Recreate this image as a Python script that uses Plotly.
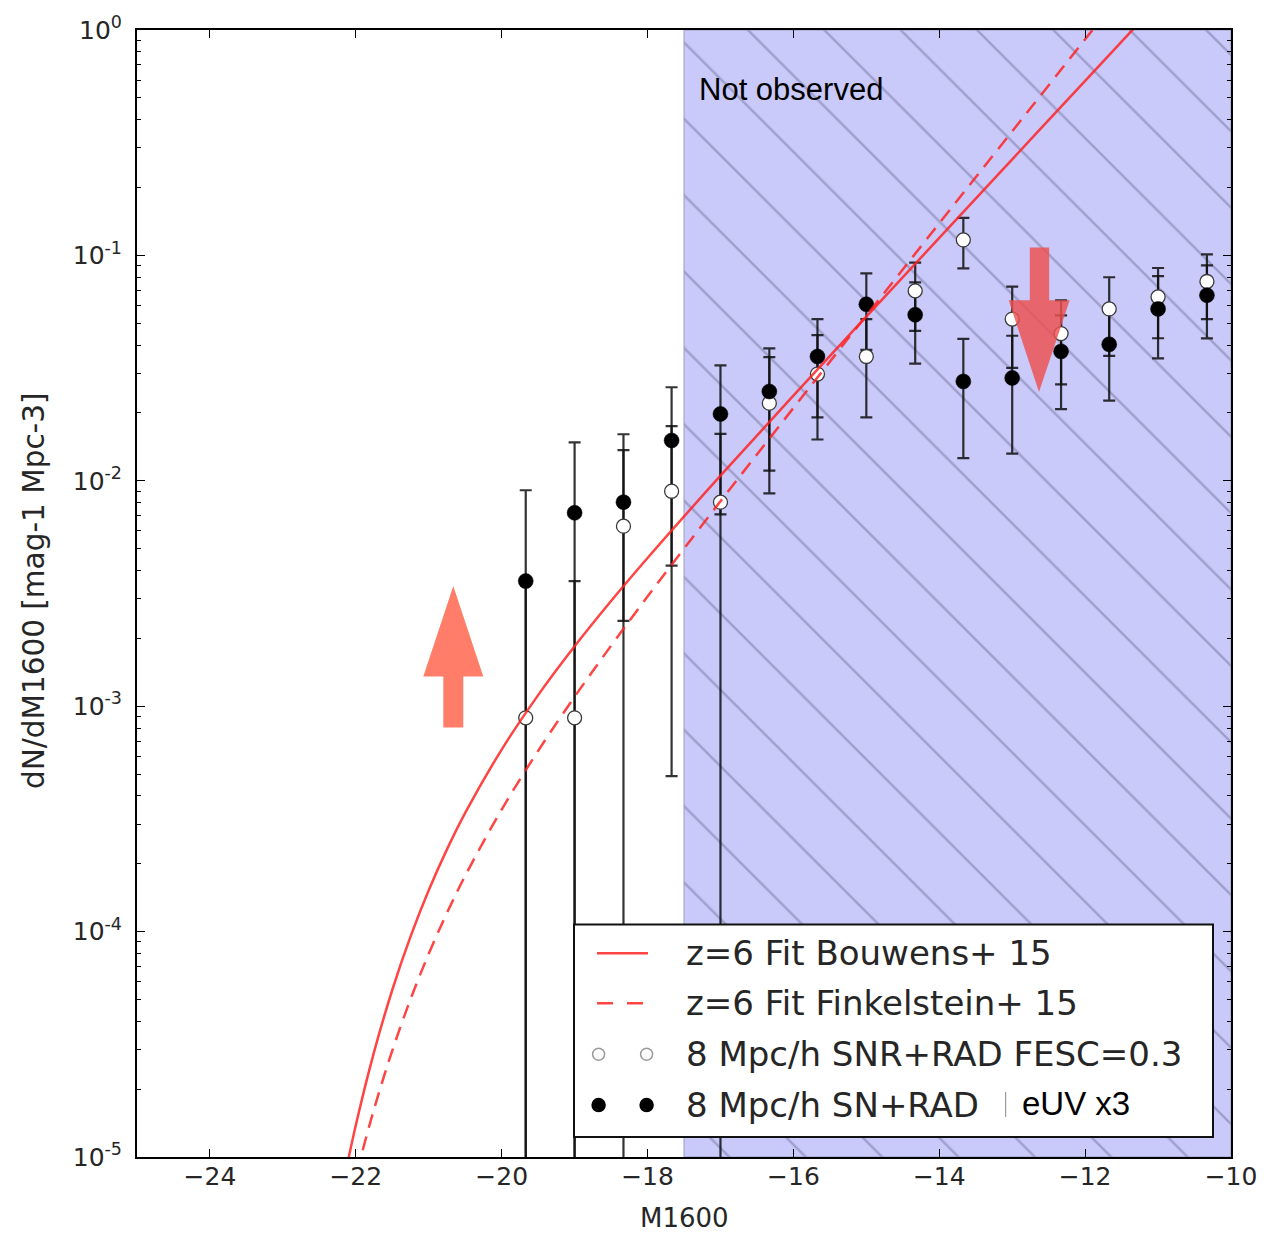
import plotly.graph_objects as go

# ---------------------------------------------------------------------------
# Data
# ---------------------------------------------------------------------------
# Magnitude bins (centres) of the simulated luminosity functions
mag_bins = [-19.67, -19.0, -18.33, -17.67, -17.0, -16.33, -15.67, -15.0,
            -14.33, -13.67, -13.0, -12.33, -11.67, -11.0, -10.33]

# 8 Mpc/h SN+RAD (filled symbols): dN/dM and 1-sigma error
phi_sn_rad = [3.59e-3, 7.21e-3, 8.04e-3, 1.51e-2, 1.98e-2, 2.49e-2, 3.56e-2,
              6.07e-2, 5.45e-2, 2.76e-2, 2.86e-2, 3.75e-2, 4.03e-2, 5.79e-2,
              6.66e-2]
err_sn_rad = [5.49e-3, 7.6e-3, 5.65e-3, 1.09e-2, 1.27e-2, 1.38e-2, 1.65e-2,
              2.26e-2, 2.14e-2, 1.5e-2, 1.54e-2, 1.67e-2, 1.76e-2, 2.3e-2,
              2.38e-2]

# 8 Mpc/h SNR+RAD FESC=0.3 (open symbols)
phi_snr_fesc = [8.88e-4, 8.88e-4, 6.29e-3, 8.99e-3, 8.04e-3, 2.21e-2,
                2.975e-2, 3.56e-2, 6.96e-2, 0.1171, 5.22e-2, 4.50e-2,
                5.79e-2, 6.54e-2, 7.66e-2]
err_snr_fesc = [2.7e-3, 2.7e-3, 9.8e-3, 8.5e-3, 8.1e-3, 1.33e-2, 1.45e-2,
                1.65e-2, 2.33e-2, 2.95e-2, 2.05e-2, 1.82e-2, 2.21e-2,
                2.25e-2, 2.44e-2]

# z=6 observational fits, sampled along M1600
fit_mag = [-22.2, -22.0, -21.75, -21.5, -21.25, -21.0, -20.75, -20.5, -20.0,
           -19.5, -19.0, -18.5, -18.0, -17.0, -16.0, -15.0, -14.0, -13.0,
           -12.0, -11.2]
fit_bouwens = [6.89e-6, 1.384e-5, 2.921e-5, 5.507e-5, 9.495e-5, 1.526e-4,
               2.317e-4, 3.363e-4, 6.421e-4, 1.120e-3, 1.844e-3, 2.928e-3,
               4.544e-3, 1.054e-2, 2.387e-2, 5.353e-2, 0.1196, 0.2668,
               0.5948, 1.129]
fit_finkelstein = [4.30e-6, 8.150e-6, 1.630e-5, 2.966e-5, 5.009e-5, 7.971e-5,
                   1.210e-4, 1.769e-4, 3.479e-4, 6.339e-4, 1.101e-3, 1.855e-3,
                   3.066e-3, 8.112e-3, 2.104e-2, 5.411e-2, 0.1388, 0.3553,
                   0.9095, 1.928]

# Faint limit of the observations
obs_limit = -17.5

x_range = [-25, -10]
y_range_log = [-5, 0]
x_ticks = [-24, -22, -20, -18, -16, -14, -12, -10]
y_exponents = [-5, -4, -3, -2, -1, 0]

legend_labels = ["z=6 Fit Bouwens+ 15", "z=6 Fit Finkelstein+ 15",
                 "8 Mpc/h SNR+RAD FESC=0.3", "8 Mpc/h SN+RAD"]

# ---------------------------------------------------------------------------
# Styling
# ---------------------------------------------------------------------------
W, H = 1287, 1233
PL, PR, PT, PB = 137, 1231, 28, 1157     # plot area in figure pixels
FONT = "DejaVu Sans"
TXT = "#262626"
RED = "rgba(255,35,35,0.85)"
BAR = "rgba(15,15,15,0.85)"


def paper(px, py):
    """Figure pixel -> paper coordinates of the plot area."""
    return (px - PL) / (PR - PL), (PB - py) / (PB - PT)


def poly_path(points):
    pts = [paper(*p) for p in points]
    return "M " + " L ".join(f"{x:.5f},{y:.5f}" for x, y in pts) + " Z"


fig = go.Figure()

# Hatched "not observed" band
fig.add_trace(go.Scatter(
    x=[obs_limit, x_range[1], x_range[1], obs_limit, obs_limit],
    y=[10 ** y_range_log[0], 10 ** y_range_log[0], 10 ** y_range_log[1],
       10 ** y_range_log[1], 10 ** y_range_log[0]],
    mode="lines", fill="toself",
    fillcolor="#c9c9fa",
    fillpattern=dict(shape="\\", bgcolor="#c9c9fa",
                     fgcolor="rgba(60,60,95,0.6)", size=54, solidity=0.045),
    line=dict(color="rgba(150,150,190,0.9)", width=1),
    hoverinfo="skip",
))

# Error bars of both simulated sets (drawn beneath all symbols)
for phi, err in [(phi_snr_fesc, err_snr_fesc), (phi_sn_rad, err_sn_rad)]:
    fig.add_trace(go.Scatter(
        x=mag_bins, y=phi, mode="markers",
        marker=dict(size=2, color="rgba(0,0,0,0)"),
        error_y=dict(type="data", array=err, symmetric=True,
                     color=BAR, thickness=2.2, width=6),
        hoverinfo="skip",
    ))

# Open symbols: SNR+RAD FESC=0.3
fig.add_trace(go.Scatter(
    x=mag_bins, y=phi_snr_fesc, mode="markers",
    marker=dict(symbol="circle", size=14, color="white",
                line=dict(color="#3a3a3a", width=1.3)),
    name=legend_labels[2],
))

# Filled symbols: SN+RAD
fig.add_trace(go.Scatter(
    x=mag_bins, y=phi_sn_rad, mode="markers",
    marker=dict(symbol="circle", size=15, color="black",
                line=dict(color="black", width=0.5)),
    name=legend_labels[3],
))

# Observational fits
fig.add_trace(go.Scatter(
    x=fit_mag, y=fit_bouwens, mode="lines", line_shape="spline",
    line=dict(color=RED, width=2.5), name=legend_labels[0],
))
fig.add_trace(go.Scatter(
    x=fit_mag, y=fit_finkelstein, mode="lines", line_shape="spline",
    line=dict(color=RED, width=2.5, dash="14px,9px"), name=legend_labels[1],
))

# ---------------------------------------------------------------------------
# Axes
# ---------------------------------------------------------------------------
tickfont = dict(family=FONT, size=25, color=TXT)
minor_vals = [k * 10.0 ** e for e in range(y_range_log[0], y_range_log[1])
              for k in range(2, 10)]

fig.update_xaxes(
    range=x_range, tickvals=x_ticks, ticks="inside", ticklen=8,
    tickwidth=1.2, tickcolor="black", showline=True, linecolor="black",
    linewidth=2, mirror="ticks", showgrid=False, zeroline=False,
    tickfont=tickfont, ticklabelstandoff=-4,
)
fig.update_yaxes(
    type="log", range=y_range_log,
    tickvals=[10.0 ** e for e in y_exponents],
    ticktext=[f"10<sup>{e}</sup>" for e in y_exponents],
    ticks="inside", ticklen=8, tickwidth=1.2, tickcolor="black",
    minor=dict(tickvals=minor_vals, ticks="inside", ticklen=4,
               tickwidth=1, tickcolor="black", showgrid=False),
    showline=True, linecolor="black", linewidth=2, mirror="ticks",
    showgrid=False, zeroline=False, tickfont=tickfont, ticklabelstandoff=8,
)

# ---------------------------------------------------------------------------
# Arrows, legend box and texts
# ---------------------------------------------------------------------------
shapes = []
arrow_up = [(443.3, 726.7), (443.3, 675.7), (423.3, 675.7), (453.3, 585.0),
            (483.3, 675.7), (463.3, 675.7), (463.3, 726.7)]
arrow_down = [(1029.8, 246.0), (1029.8, 298.8), (1008.7, 298.8),
              (1039.0, 390.7), (1069.7, 298.8), (1049.2, 298.8),
              (1049.2, 246.0)]
shapes.append(dict(type="path", xref="paper", yref="paper",
                   path=poly_path(arrow_up), fillcolor="#ff7d69",
                   line=dict(width=0), layer="above"))
shapes.append(dict(type="path", xref="paper", yref="paper",
                   path=poly_path(arrow_down),
                   fillcolor="rgba(238,80,78,0.82)",
                   line=dict(width=0), layer="above"))

# Legend frame
lx0, ly0 = paper(574, 1137)
lx1, ly1 = paper(1213, 924)
shapes.append(dict(type="rect", xref="paper", yref="paper",
                   x0=lx0, y0=ly0, x1=lx1, y1=ly1, fillcolor="white",
                   line=dict(color="#111111", width=2), layer="above"))

row_py = [953, 1003, 1054, 1105]
sx0, _ = paper(597, 0)
sx1, _ = paper(648, 0)
m1x, _ = paper(598.6, 0)
m2x, _ = paper(646.6, 0)
tx, _ = paper(684, 0)

for i, dash in enumerate(["solid", "16px,14px"]):
    _, yy = paper(0, row_py[i])
    shapes.append(dict(type="line", xref="paper", yref="paper",
                       x0=sx0, x1=sx1, y0=yy, y1=yy,
                       line=dict(color=RED, width=2.5, dash=dash),
                       layer="above"))

for i, (fill, edge, r) in enumerate([("white", "#9a9a9a", 6.0),
                                     ("black", "black", 6.5)]):
    _, yy = paper(0, row_py[2 + i])
    for mx in (m1x, m2x):
        shapes.append(dict(type="circle", xref="paper", yref="paper",
                           xsizemode="pixel", ysizemode="pixel",
                           xanchor=mx, yanchor=yy, x0=-r, x1=r, y0=-r, y1=r,
                           fillcolor=fill, line=dict(color=edge, width=1.5),
                           layer="above"))

# thin separator before the "eUV x3" note
bx, by0 = paper(1005.6, 1117)
_, by1 = paper(1005.6, 1092)
shapes.append(dict(type="line", xref="paper", yref="paper",
                   x0=bx, x1=bx, y0=by0, y1=by1,
                   line=dict(color="#9a9a9a", width=1.2), layer="above"))

annotations = []
for i, label in enumerate(legend_labels):
    _, yy = paper(0, row_py[i])
    annotations.append(dict(xref="paper", yref="paper", x=tx, y=yy,
                            text=label, showarrow=False, xanchor="left",
                            yanchor="middle",
                            font=dict(family=FONT, size=34, color=TXT)))

ex, ey = paper(1020, 1103)
annotations.append(dict(xref="paper", yref="paper", x=ex, y=ey,
                        text="eUV x3", showarrow=False, xanchor="left",
                        yanchor="middle",
                        font=dict(family="Liberation Sans", size=33,
                                  color="black")))

nx, ny = paper(697, 88)
annotations.append(dict(xref="paper", yref="paper", x=nx, y=ny,
                        text="Not observed", showarrow=False, xanchor="left",
                        yanchor="middle",
                        font=dict(family="Liberation Sans", size=31,
                                  color="black")))

# Axis titles
axt_x, axt_y = paper(684, 1218)
annotations.append(dict(xref="paper", yref="paper", x=axt_x, y=axt_y,
                        text="M1600", showarrow=False, xanchor="center",
                        yanchor="middle",
                        font=dict(family=FONT, size=26, color=TXT)))
ayt_x, ayt_y = paper(34, 590)
annotations.append(dict(xref="paper", yref="paper", x=ayt_x, y=ayt_y,
                        text="dN/dM1600 [mag-1 Mpc-3]", showarrow=False,
                        textangle=-90, xanchor="center", yanchor="middle",
                        font=dict(family=FONT, size=29.5, color=TXT)))

fig.update_layout(
    width=W, height=H,
    margin=dict(l=PL, r=W - PR, t=PT, b=H - PB),
    plot_bgcolor="white", paper_bgcolor="white",
    showlegend=False, shapes=shapes, annotations=annotations,
)

fig.write_html("out.html")
